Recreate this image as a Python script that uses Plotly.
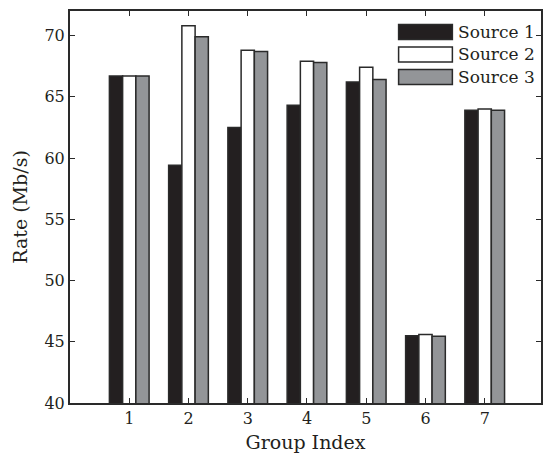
import plotly.graph_objects as go

groups = [1, 2, 3, 4, 5, 6, 7]
source1 = [66.7, 59.4, 62.5, 64.3, 66.2, 45.5, 63.9]
source2 = [66.7, 70.8, 68.8, 67.9, 67.4, 45.6, 64.0]
source3 = [66.7, 69.9, 68.7, 67.8, 66.4, 45.45, 63.9]
series_names = ["Source 1", "Source 2", "Source 3"]
y_ticks = [40, 45, 50, 55, 60, 65, 70]

colors = ["#231f20", "#ffffff", "#939598"]
edge = "#2a2a2a"
font_family = "DejaVu Serif"
text_color = "#231f20"

W, H = 543, 460
ml, mr, mt, mb = 70, 0, 11, 57

fig = go.Figure()
for name, vals, col in zip(series_names, [source1, source2, source3], colors):
    fig.add_trace(go.Bar(
        x=groups, y=vals, name=name,
        marker=dict(color=col, line=dict(color=edge, width=1.5)),
        showlegend=False, hoverinfo="skip",
    ))

# custom legend (wide swatches like the reference)
pw = W - ml - mr
ph = H - mt - mb
def px_x(x):
    return (x - ml) / pw
def px_y(y):
    return (H - mb - y) / ph

row_centers = [32, 54.5, 77]
for name, col, yc in zip(series_names, colors, row_centers):
    fig.add_shape(type="rect", xref="paper", yref="paper",
                  x0=px_x(400), x1=px_x(454), y0=px_y(yc + 7.5), y1=px_y(yc - 7.5),
                  fillcolor=col, line=dict(color=edge, width=1.5), layer="above")
    fig.add_annotation(xref="paper", yref="paper", x=px_x(458), y=px_y(yc),
                       text=name, showarrow=False, xanchor="left", yanchor="middle",
                       font=dict(family=font_family, size=17, color=text_color))

fig.update_layout(
    width=W, height=H,
    margin=dict(l=ml, r=mr, t=mt, b=mb),
    plot_bgcolor="white", paper_bgcolor="white",
    barmode="group", bargap=0.33, bargroupgap=0,
    font=dict(family=font_family, size=16, color=text_color),
    xaxis=dict(
        range=[0, 7.95], tickvals=groups, ticktext=[str(g) for g in groups],
        ticks="inside", ticklen=5, tickcolor=edge, tickwidth=1,
        showline=True, linecolor=edge, linewidth=1.5, mirror="ticks",
        showgrid=False, zeroline=False, tickfont=dict(size=16),
        title=dict(text="Group Index", standoff=9,
                   font=dict(family=font_family, size=19, color=text_color)),
    ),
    yaxis=dict(
        range=[40, 72], tickvals=y_ticks,
        ticks="inside", ticklen=5, tickcolor=edge, tickwidth=1,
        showline=True, linecolor=edge, linewidth=2, mirror="ticks",
        showgrid=False, zeroline=False, tickfont=dict(size=16),
        title=dict(text="Rate (Mb/s)", standoff=12,
                   font=dict(family=font_family, size=19, color=text_color)),
    ),
)

fig.write_html("out.html", config={"displayModeBar": False},
               post_script="document.body.style.margin='0';")
